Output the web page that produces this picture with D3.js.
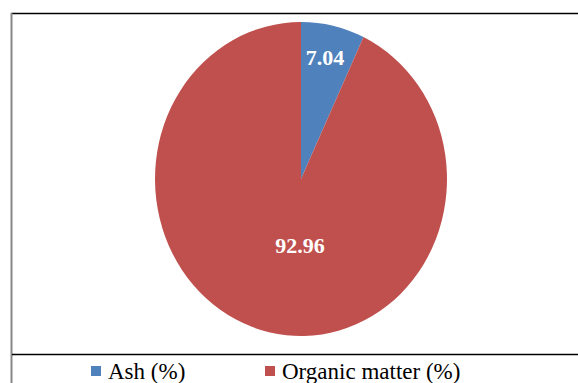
<!DOCTYPE html>
<html lang="en">
  <head>
    <meta charset="UTF-8" />
    <title>Ash vs Organic matter</title>
    <script src="https://d3js.org/d3.v7.min.js"></script>
    <style>
      body { margin: 0; background: #fff; }
      .serif { font-family: 'Times New Roman', Times, 'Liberation Serif', 'DejaVu Serif', 'Noto Serif', serif; }
    </style>
  </head>
  <body>
    <svg width="578" height="383"></svg>

    <script>
      // Data
      const categories = ['Ash (%)', 'Organic matter (%)'];
      const values = [7.04, 92.96];
      const colors = ['#4f81bd', '#c0504d'];

      const svg = d3.select('svg');

      // Frame lines
      svg.append('line').attr('x1', 11).attr('y1', 13.5).attr('x2', 578).attr('y2', 13.5)
        .attr('stroke', '#000').attr('stroke-width', 1.5);
      svg.append('line').attr('x1', 11.5).attr('y1', 13).attr('x2', 11.5).attr('y2', 383)
        .attr('stroke', '#888').attr('stroke-width', 2);
      svg.append('line').attr('x1', 12).attr('y1', 354.5).attr('x2', 578).attr('y2', 354.5)
        .attr('stroke', '#000').attr('stroke-width', 1.5);

      // Pie (slightly stretched vertically, like the original)
      const cx = 301, cy = 179, rx = 146, ry = 157;
      const pie = d3.pie().sort(null)(values);
      const arc = d3.arc().innerRadius(0).outerRadius(rx);

      const g = svg.append('g')
        .attr('transform', `translate(${cx},${cy}) scale(1,${ry / rx})`);

      g.selectAll('path')
        .data(pie)
        .enter()
        .append('path')
        .attr('d', arc)
        .attr('fill', (d, i) => colors[i]);

      // Labels
      const labelPos = [[325, 57], [300, 245]];
      svg.selectAll('.label')
        .data(pie)
        .enter()
        .append('text')
        .attr('class', 'label serif')
        .attr('x', (d, i) => labelPos[i][0])
        .attr('y', (d, i) => labelPos[i][1])
        .attr('dy', '0.35em')
        .attr('text-anchor', 'middle')
        .attr('fill', '#fff')
        .style('font-weight', 'bold')
        .style('font-size', '22px')
        .text((d) => d.data.toFixed(2));

      // Legend
      const legendX = [91, 265];
      const legend = svg.selectAll('.legend')
        .data(categories)
        .enter()
        .append('g')
        .attr('class', 'legend')
        .attr('transform', (d, i) => `translate(${legendX[i]},366)`);

      legend.append('rect')
        .attr('width', 10).attr('height', 10)
        .attr('fill', (d, i) => colors[i]);

      legend.append('text')
        .attr('class', 'serif')
        .attr('x', 17).attr('y', 13)
        .style('font-size', '23px')
        .attr('fill', '#000')
        .text((d) => d);
    </script>
  </body>
</html>
